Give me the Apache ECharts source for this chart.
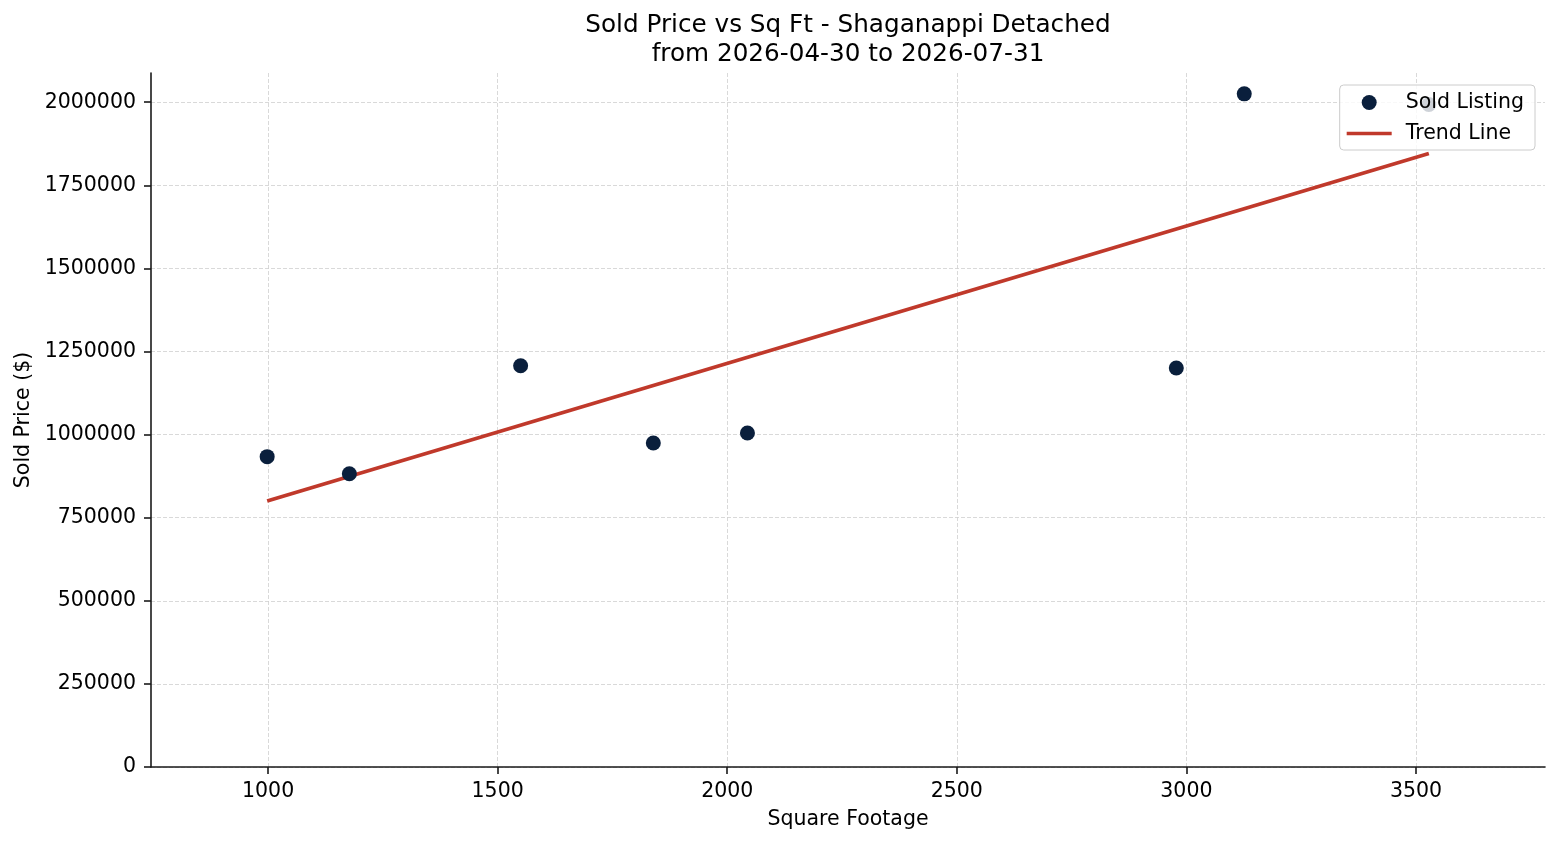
<!DOCTYPE html>
<html>
<head>
<meta charset="utf-8">
<script src="https://cdn.jsdelivr.net/npm/echarts@6/dist/echarts.min.js"></script>
<style>
html,body{margin:0;padding:0;background:#fff;}
#chart{width:1560px;height:845px;}
</style>
</head>
<body>
<div id="chart"></div>
<script>
// Data
const sqft = [998, 1177, 1550, 1839, 2044, 2978, 3126, 3528];
const soldPrice = [933700, 882100, 1207300, 974600, 1004700, 1200400, 2025300, 1993100];
const trendX = [998, 3528];
const trendY = [800000, 1846000];
const xTicks = [1000, 1500, 2000, 2500, 3000, 3500];
const yTicks = [0, 250000, 500000, 750000, 1000000, 1250000, 1500000, 1750000, 2000000];
const titleText = 'Sold Price vs Sq Ft - Shaganappi Detached\nfrom 2026-04-30 to 2026-07-31';

const FONT = 'DejaVu Sans';
const FS = 20.5;
const scatterData = sqft.map((x, i) => [x, soldPrice[i]]);
const trendData = trendX.map((x, i) => [x, trendY[i]]);

const chart = echarts.init(document.getElementById('chart'), null, {renderer: 'canvas'});
chart.setOption({
  animation: false,
  backgroundColor: '#fff',
  textStyle: {fontFamily: FONT},
  title: {
    text: titleText,
    left: 848,
    top: 11,
    padding: 0,
    textAlign: 'center',
    textStyle: {fontFamily: FONT, fontSize: 24.7, fontWeight: 'normal', color: '#000', lineHeight: 29}
  },
  grid: {left: 151, right: 15, top: 73, bottom: 78, containLabel: false},
  legend: {
    orient: 'vertical',
    right: 25,
    top: 85,
    padding: [7, 11, 6, 7],
    itemWidth: 45,
    itemHeight: 15,
    itemGap: 10,
    backgroundColor: 'rgba(255,255,255,0.8)',
    borderColor: '#cccccc',
    borderWidth: 1,
    borderRadius: 4,
    textStyle: {fontFamily: FONT, fontSize: FS, color: '#000', padding: [0, 0, 0, 9]},
    data: [
      {name: 'Sold Listing', icon: 'circle'},
      {name: 'Trend Line', icon: 'path://M0,0H45V3.6H0Z', itemStyle: {color: '#c0392b'}}
    ]
  },
  xAxis: {
    type: 'value',
    min: 745,
    max: 3781,
    name: 'Square Footage',
    nameLocation: 'middle',
    nameGap: 42,
    nameTextStyle: {fontFamily: FONT, fontSize: FS, color: '#000'},
    axisLine: {show: true, onZero: false, lineStyle: {color: '#1a1a1a', width: 1.6}},
    axisTick: {show: true, length: 7, customValues: xTicks, lineStyle: {color: '#1a1a1a', width: 1.6}},
    axisLabel: {customValues: xTicks, margin: 14, fontFamily: FONT, fontSize: FS, color: '#000', formatter: v => String(v)},
    splitLine: {show: true, lineStyle: {color: '#cfcfcf', width: 0.8, type: [4, 2]}}
  },
  yAxis: {
    type: 'value',
    min: 0,
    max: 2088000,
    name: 'Sold Price ($)',
    nameLocation: 'middle',
    nameGap: 116,
    nameTextStyle: {fontFamily: FONT, fontSize: FS, color: '#000'},
    axisLine: {show: true, onZero: false, lineStyle: {color: '#1a1a1a', width: 1.6}},
    axisTick: {show: true, length: 7, customValues: yTicks, lineStyle: {color: '#1a1a1a', width: 1.6}},
    axisLabel: {customValues: yTicks, margin: 15, fontFamily: FONT, fontSize: FS, color: '#000', formatter: v => String(v)},
    splitLine: {show: true, lineStyle: {color: '#cfcfcf', width: 0.8, type: [4, 2]}}
  },
  series: [
    {
      name: 'Sold Listing',
      type: 'scatter',
      data: scatterData,
      symbol: 'circle',
      symbolSize: 15,
      itemStyle: {color: '#0a1f3c', opacity: 1},
      z: 3
    },
    {
      name: 'Trend Line',
      type: 'line',
      data: trendData,
      symbol: 'none',
      showSymbol: false,
      lineStyle: {color: '#c0392b', width: 3.7},
      itemStyle: {color: '#c0392b'},
      z: 2
    }
  ]
});
</script>
</body>
</html>
